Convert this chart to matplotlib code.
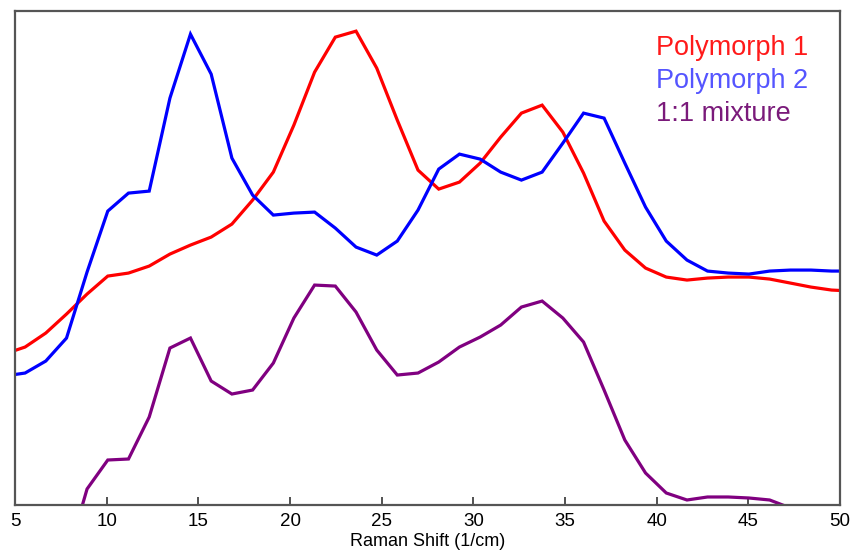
import numpy as np
from matplotlib import pyplot as plt

# Raman shift sample positions (1/cm)
shift = [4.42, 5.55, 6.68, 7.81, 8.93, 10.06, 11.19, 12.32, 13.45, 14.57, 15.70,
         16.83, 17.96, 19.09, 20.21, 21.34, 22.47, 23.60, 24.73, 25.85, 26.98,
         28.11, 29.24, 30.37, 31.49, 32.62, 33.75, 34.88, 36.01, 37.13, 38.26,
         39.39, 40.52, 41.65, 42.77, 43.90, 45.03, 46.16, 47.29, 48.41, 49.54, 50.67]

# intensities (arbitrary units)
poly1 = [151, 158, 172, 191, 211, 229, 232, 239, 251, 260, 268, 281, 305, 333, 380,
         433, 468, 474, 437, 385, 335, 316, 323, 342, 368, 392, 400, 373, 332, 284,
         255, 237, 228, 225, 227, 228, 228, 226, 222, 218, 215, 214]
poly2 = [129, 132, 144, 167, 233, 294, 312, 314, 407, 471, 431, 347, 310, 290, 292,
         293, 277, 258, 250, 264, 295, 336, 351, 346, 333, 325, 333, 362, 392, 387,
         342, 298, 264, 245, 234, 232, 231, 234, 235, 235, 234, 234]
mixture = [np.nan, np.nan, np.nan, -55, 16, 45, 46, 88, 157, 167, 124, 111, 115, 142,
           187, 220, 219, 193, 155, 130, 132, 143, 158, 168, 180, 198, 204, 187, 163,
           115, 65, 32, 12, 5, 8, 8, 7, 5, -3, -10, -15, -20]

labels = ['Polymorph 1', 'Polymorph 2', '1:1 mixture']
line_colors = ['#ff0000', '#0000ff', '#800080']
text_colors = ['#ff1a1a', '#5555ff', '#7a1a7a']

plt.rcParams['font.family'] = ['Liberation Sans', 'DejaVu Sans']

fig = plt.figure(figsize=(8.52, 5.58), dpi=100)
ax = fig.add_axes([0.0176, 0.095, 0.9684, 0.885])

for ys, c in zip([poly1, poly2, mixture], line_colors):
    ax.plot(shift, ys, '-', color=c, linewidth=2.3, solid_joinstyle='miter')

ax.set_xlim(5, 50)
ax.set_ylim(0, 494)
ax.set_xticks(range(5, 51, 5))
ax.set_yticks([])
ax.tick_params(axis='x', direction='in', length=6, width=1.2, color='#333333',
               labelsize=13.5, pad=6)
for sp in ax.spines.values():
    sp.set_color('#555555')
    sp.set_linewidth(1.6)
ax.set_xlabel('Raman Shift (1/cm)', fontsize=13, labelpad=2)

# coloured text legend in the top-right corner
for i, (lab, c) in enumerate(zip(labels, text_colors)):
    ax.text(0.777, 0.925 - i * 0.067, lab, color=c, fontsize=19.5,
            transform=ax.transAxes, va='center', ha='left')

fig.savefig('out.png', dpi=100)
